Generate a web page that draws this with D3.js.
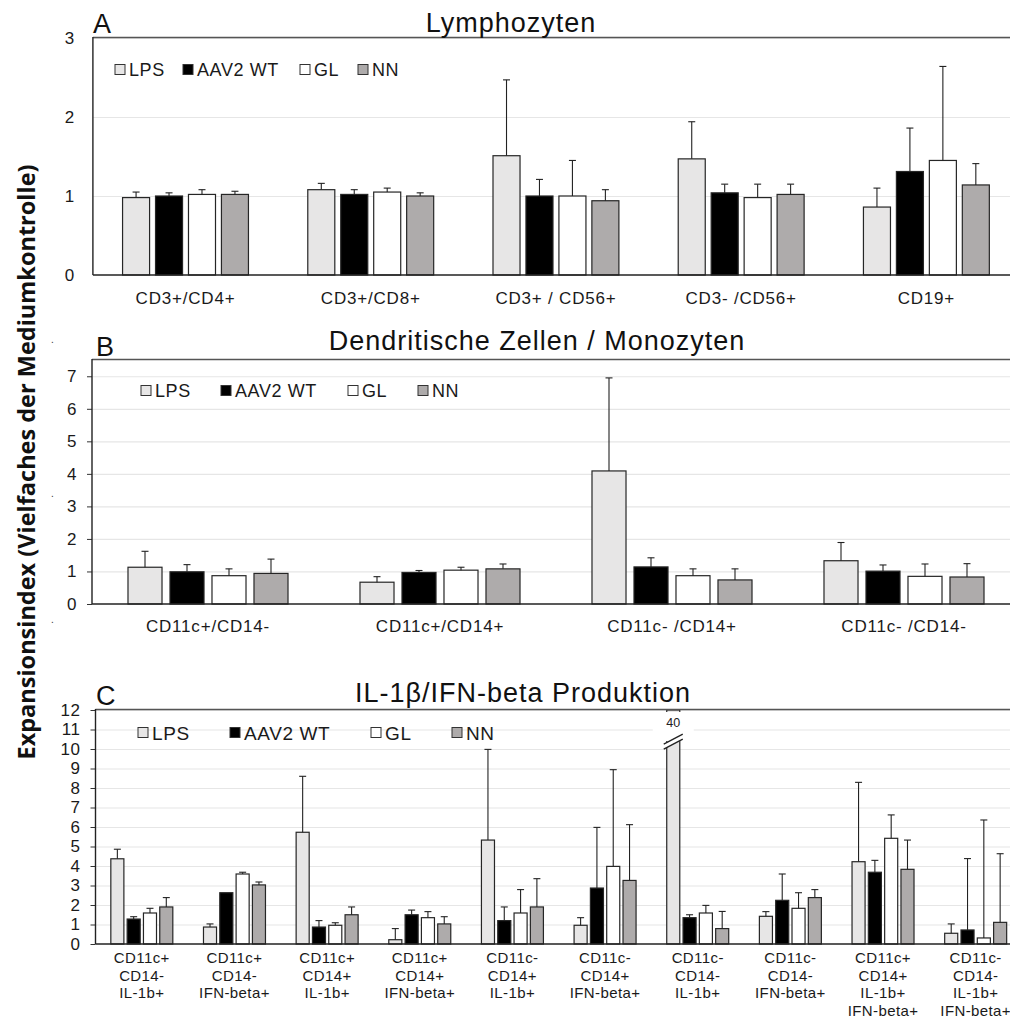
<!DOCTYPE html>
<html>
<head>
<meta charset="utf-8">
<script src="https://cdn.jsdelivr.net/npm/d3@7"></script>
<style>
  body { margin: 0; background: #fff; }
  svg { display: block; font-family: "Liberation Sans", Arial, sans-serif; }
</style>
</head>
<body>
<svg id="chart" width="1010" height="1019"></svg>
<script>
// series
const seriesNames = ['LPS', 'AAV2 WT', 'GL', 'NN'];
const seriesColors = ['#e7e6e6', '#000000', '#ffffff', '#aeabab'];

// A - Lymphozyten
const lymphCategories = ['CD3+/CD4+', 'CD3+/CD8+', 'CD3+ / CD56+', 'CD3- /CD56+', 'CD19+'];
const lymphMeans = [
  [0.98, 1.08, 1.51, 1.47, 0.86],  // LPS
  [1.00, 1.02, 1.00, 1.04, 1.31],  // AAV2 WT
  [1.02, 1.05, 1.00, 0.98, 1.45],  // GL
  [1.02, 1.00, 0.94, 1.02, 1.14]   // NN
];
const lymphErrTop = [
  [1.05, 1.16, 2.47, 1.94, 1.10],
  [1.04, 1.08, 1.21, 1.15, 1.86],
  [1.08, 1.10, 1.45, 1.15, 2.64],
  [1.06, 1.04, 1.08, 1.15, 1.41]
];
const lymphTicks = [0, 1, 2, 3];

// B - Dendritische Zellen / Monozyten
const dcCategories = ['CD11c+/CD14-', 'CD11c+/CD14+', 'CD11c- /CD14+', 'CD11c- /CD14-'];
const dcMeans = [
  [1.13, 0.67, 4.09, 1.33],
  [0.99, 0.97, 1.14, 1.01],
  [0.87, 1.04, 0.87, 0.85],
  [0.94, 1.08, 0.74, 0.83]
];
const dcErrTop = [
  [1.62, 0.84, 6.95, 1.89],
  [1.21, 1.03, 1.42, 1.20],
  [1.08, 1.13, 1.08, 1.23],
  [1.38, 1.23, 1.08, 1.24]
];
const dcTicks = [0, 1, 2, 3, 4, 5, 6, 7];

// C - IL-1b / IFN-beta Produktion
const cytoCategories = [
  ['CD11c+', 'CD14-', 'IL-1b+'],
  ['CD11c+', 'CD14-', 'IFN-beta+'],
  ['CD11c+', 'CD14+', 'IL-1b+'],
  ['CD11c+', 'CD14+', 'IFN-beta+'],
  ['CD11c-', 'CD14+', 'IL-1b+'],
  ['CD11c-', 'CD14+', 'IFN-beta+'],
  ['CD11c-', 'CD14-', 'IL-1b+'],
  ['CD11c-', 'CD14-', 'IFN-beta+'],
  ['CD11c+', 'CD14+', 'IL-1b+', 'IFN-beta+'],
  ['CD11c-', 'CD14-', 'IL-1b+', 'IFN-beta+']
];
const cytoMeans = [
  [4.37, 0.87, 5.73, 0.22, 5.33, 0.96, 40, 1.42, 4.22, 0.55],
  [1.28, 2.63, 0.87, 1.50, 1.20, 2.87, 1.35, 2.24, 3.68, 0.72],
  [1.59, 3.59, 0.96, 1.35, 1.59, 3.98, 1.59, 1.83, 5.42, 0.31],
  [1.90, 3.03, 1.50, 1.03, 1.90, 3.26, 0.79, 2.38, 3.83, 1.11]
];
const cytoErrTop = [
  [4.86, 1.03, 8.60, 0.79, 9.98, 1.35, null, 1.66, 8.29, 1.03],
  [1.40, 2.63, 1.20, 1.74, 1.90, 5.98, 1.50, 3.59, 4.29, 4.38],
  [1.83, 3.68, 1.09, 1.66, 2.79, 8.94, 1.98, 2.63, 6.62, 6.36],
  [2.38, 3.18, 1.90, 1.40, 3.35, 6.12, 1.67, 2.79, 5.33, 4.63]
];
const cytoTicks = [0, 1, 2, 3, 4, 5, 6, 7, 8, 9, 10, 11, 12];

const svg = d3.select('#chart');

const panels = [
  {
    letter: 'A', title: 'Lymphozyten', titleX: 511, titleY: 32, letterX: 93, letterY: 33,
    cats: lymphCategories, means: lymphMeans, errs: lymphErrTop, ticks: lymphTicks,
    left: 92.9, right: 1019, y0: 275, yTop: 38, max: 3,
    pad: { inner: 0.18, outer: 0.9 }, tickSize: 0, tickPad: 18, tickFont: 17,
    legendX: [115, 183, 300, 358], legendY: 70, legendFont: 18,
    labelPad: 17, labelFont: 17
  },
  {
    letter: 'B', title: 'Dendritische Zellen / Monozyten', titleX: 537, titleY: 350, letterX: 96, letterY: 356,
    cats: dcCategories, means: dcMeans, errs: dcErrTop, ticks: dcTicks,
    left: 92, right: 1020, y0: 604, yTop: 360, max: 7.5,
    pad: { inner: 0.19, outer: 0.857 }, tickSize: 5, tickPad: 10, tickFont: 17,
    legendX: [141, 221, 348, 418], legendY: 391, legendFont: 18,
    labelPad: 16, labelFont: 17
  },
  {
    letter: 'C', title: 'IL-1β/IFN-beta Produktion', titleX: 523, titleY: 702, letterX: 96, letterY: 705,
    cats: cytoCategories, means: cytoMeans, errs: cytoErrTop, ticks: cytoTicks,
    left: 95.5, right: 1022, y0: 944, yTop: 710, max: 12,
    pad: { inner: 0.2, outer: 0.94 }, tickSize: 5, tickPad: 10, tickFont: 17,
    legendX: [138, 230, 371, 452], legendY: 733, legendFont: 19,
    labelFont: 15, multiline: true
  }
];

panels.forEach(p => {
  const g = svg.append('g');
  const catKeys = p.cats.map((c, i) => i);

  const x0 = d3.scaleBand().domain(catKeys).range([p.left, p.right]);
  const x1 = d3.scaleBand().domain(d3.range(seriesNames.length))
    .range([0, x0.bandwidth()])
    .paddingInner(p.pad.inner).paddingOuter(p.pad.outer);
  const y = d3.scaleLinear().domain([0, p.max]).range([p.y0, p.yTop]).clamp(true);

  // grid
  g.append('g')
    .attr('transform', 'translate(' + p.left + ',0)')
    .call(d3.axisLeft(y).tickValues(p.ticks.filter(t => t > 0)).tickSize(-(p.right - p.left)).tickFormat(''))
    .call(a => a.select('.domain').remove())
    .call(a => a.selectAll('line').attr('stroke', '#e6e6e6').attr('stroke-width', 1.2));

  // y ticks
  g.append('g')
    .attr('transform', 'translate(' + p.left + ',0)')
    .call(d3.axisLeft(y).tickValues(p.ticks).tickSize(p.tickSize).tickPadding(p.tickPad).tickFormat(d3.format('d')))
    .call(a => a.select('.domain').remove())
    .call(a => a.selectAll('line').attr('stroke', '#333'))
    .call(a => a.selectAll('text')
      .attr('font-family', '"Liberation Sans", Arial, sans-serif')
      .attr('font-size', p.tickFont).attr('fill', '#1a1a1a').attr('letter-spacing', 0.6));

  // bars
  const data = [];
  p.cats.forEach((c, ci) => {
    seriesNames.forEach((s, si) => {
      data.push({ ci, si, v: p.means[si][ci], e: p.errs[si][ci] });
    });
  });

  g.append('g').selectAll('rect').data(data).enter().append('rect')
    .attr('x', d => x0(d.ci) + x1(d.si))
    .attr('width', x1.bandwidth())
    .attr('y', d => y(d.v))
    .attr('height', d => p.y0 - y(d.v))
    .attr('fill', d => seriesColors[d.si])
    .attr('stroke', '#262626')
    .attr('stroke-width', 1.2);

  // error bars (upper only)
  const eb = g.append('g').attr('stroke', '#222').attr('stroke-width', 1.1);
  data.filter(d => d.e != null && d.e > d.v).forEach(d => {
    const cx = x0(d.ci) + x1(d.si) + x1.bandwidth() / 2;
    eb.append('line').attr('x1', cx).attr('x2', cx).attr('y1', y(d.v)).attr('y2', y(d.e));
    eb.append('line').attr('x1', cx - 3.5).attr('x2', cx + 3.5).attr('y1', y(d.e)).attr('y2', y(d.e));
  });

  // broken bar (value beyond axis)
  data.filter(d => d.v > p.max).forEach(d => {
    const bx = x0(d.ci) + x1(d.si);
    const bw = x1.bandwidth();
    const top = y(p.max);
    const brk = y(p.max * 0.85);
    g.append('rect').attr('x', bx - 14).attr('width', bw + 28)
      .attr('y', top + 2).attr('height', brk - top - 6).attr('fill', '#fff');
    g.append('text').attr('x', bx + bw / 2).attr('y', top + 17)
      .attr('text-anchor', 'middle').attr('font-size', 12.5).attr('fill', '#222')
      .text(String(d.v));
    g.append('polygon')
      .attr('points', [[bx - 3, brk + 4], [bx + bw + 3, brk - 6], [bx + bw + 3, brk - 11], [bx - 3, brk - 1]].join(' '))
      .attr('fill', '#fff');
    [0, -5].forEach(off => {
      g.append('line').attr('x1', bx - 3).attr('y1', brk + 4 + off)
        .attr('x2', bx + bw + 3).attr('y2', brk - 6 + off)
        .attr('stroke', '#222').attr('stroke-width', 1.3);
    });
  });

  // frame: top line, left axis, bottom axis
  g.append('line').attr('x1', p.left).attr('x2', 1010).attr('y1', p.yTop - 0.5).attr('y2', p.yTop - 0.5)
    .attr('stroke', '#555').attr('stroke-width', 1.6);
  g.append('line').attr('x1', p.left).attr('x2', p.left).attr('y1', p.yTop - 1).attr('y2', p.y0)
    .attr('stroke', '#222').attr('stroke-width', 1.4);
  g.append('line').attr('x1', p.left).attr('x2', 1010).attr('y1', p.y0).attr('y2', p.y0)
    .attr('stroke', '#222').attr('stroke-width', 1.6);

  // x labels
  if (!p.multiline) {
    g.append('g')
      .attr('transform', 'translate(0,' + p.y0 + ')')
      .call(d3.axisBottom(x0).tickSize(0).tickPadding(p.labelPad).tickFormat(i => p.cats[i]))
      .call(a => a.select('.domain').remove())
      .call(a => a.selectAll('text')
        .attr('font-family', '"Liberation Sans", Arial, sans-serif')
        .attr('font-size', p.labelFont).attr('fill', '#1a1a1a').attr('letter-spacing', 0.8));
  } else {
    const lab = g.append('g').selectAll('text').data(catKeys).enter().append('text')
      .attr('text-anchor', 'middle').attr('font-size', p.labelFont).attr('fill', '#1a1a1a')
      .attr('letter-spacing', 0.4);
    lab.each(function (i) {
      const t = d3.select(this);
      p.cats[i].forEach((line, li) => {
        t.append('tspan').attr('x', x0(i) + x0.bandwidth() / 2)
          .attr('y', p.y0 + 19 + li * 17.5).text(line);
      });
    });
  }

  // legend
  const lg = g.append('g');
  seriesNames.forEach((s, si) => {
    lg.append('rect').attr('x', p.legendX[si]).attr('y', p.legendY - 5.5)
      .attr('width', 10).attr('height', 10)
      .attr('fill', seriesColors[si]).attr('stroke', '#333').attr('stroke-width', 1);
    lg.append('text').attr('x', p.legendX[si] + 14).attr('y', p.legendY)
      .attr('dy', '0.36em').attr('font-size', p.legendFont).attr('fill', '#1a1a1a')
      .attr('letter-spacing', 0.6).text(s);
  });

  // title and panel letter
  g.append('text').attr('x', p.titleX).attr('y', p.titleY).attr('text-anchor', 'middle')
    .attr('font-size', 27).attr('letter-spacing', 1).attr('fill', '#111').text(p.title);
  g.append('text').attr('x', p.letterX).attr('y', p.letterY)
    .attr('font-size', 27).attr('fill', '#111').text(p.letter);
});

// y axis title
svg.append('text')
  .attr('transform', 'translate(25,462) rotate(-90)')
  .attr('text-anchor', 'middle').attr('dominant-baseline', 'central')
  .attr('font-family', '"Open Sans", sans-serif').attr('font-weight', 'bold')
  .attr('font-size', 24).attr('fill', '#111')
  .attr('textLength', 595).attr('lengthAdjust', 'spacingAndGlyphs')
  .text('Expansionsindex (Vielfaches der Mediumkontrolle)');

// stray dots left of the axes
[343, 497, 623].forEach(yy => {
  svg.append('text').attr('x', 51).attr('y', yy).attr('font-size', 10).attr('fill', '#333').text('.');
});
</script>
</body>
</html>
